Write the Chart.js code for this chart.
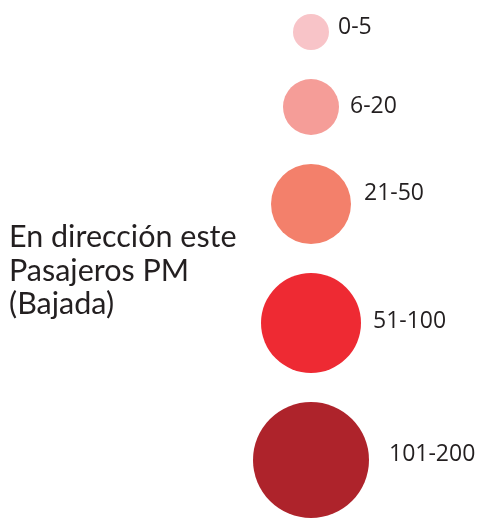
<!DOCTYPE html>
<html>
<head>
<meta charset="utf-8">
<script src="https://cdn.jsdelivr.net/npm/chart.js@4"></script>
<style>
  html, body { margin: 0; padding: 0; background: #ffffff; }
  #wrap { width: 481px; height: 521px; }
</style>
</head>
<body>
<div id="wrap"><canvas id="c" width="481" height="521"></canvas></div>
<script>
// ---- data ----
const categories = ["0-5", "6-20", "21-50", "51-100", "101-200"];
const bubbleRadii = [18, 28, 40, 50, 58];
const colors = ["#f8c4c8", "#f59d98", "#f3806b", "#ee2a33", "#ae232b"];
const titleLines = ["En dirección este", "Pasajeros PM", "(Bajada)"];

// ---- layout derived from sizes (stacked with constant gap) ----
const GAP = 29, TOP = 14, COLUMN_X = 311;
const centers = [];
let cur = TOP;
bubbleRadii.forEach((r, i) => {
  if (i === 0) cur = TOP + r;
  else cur = cur + bubbleRadii[i - 1] + GAP + r;
  centers.push(cur);
});

const points = categories.map((c, i) => ({ x: COLUMN_X, y: centers[i], r: bubbleRadii[i], label: c }));

// label placement style tweaks (relative to each bubble's edge/centre)
const LABEL_DX = [9, 11, 13, 12, 20];
const LABEL_DY = [-5, -1, -11, -2, -6];

const labelPlugin = {
  id: 'labels',
  afterDatasetsDraw(chart) {
    const ctx = chart.ctx;
    const meta = chart.getDatasetMeta(0);
    ctx.save();
    ctx.fillStyle = '#231f20';
    ctx.font = '23px "Open Sans"';
    ctx.textBaseline = 'middle';
    ctx.textAlign = 'left';
    meta.data.forEach((el, i) => {
      const r = bubbleRadii[i];
      ctx.fillText(categories[i], el.x + r + LABEL_DX[i], el.y + LABEL_DY[i]);
    });
    ctx.font = '30.5px Lato';
    ctx.textBaseline = 'alphabetic';
    titleLines.forEach((t, i) => {
      ctx.fillText(t, 9, 247 + i * 33.5);
    });
    ctx.restore();
  }
};

new Chart(document.getElementById('c'), {
  type: 'bubble',
  data: {
    datasets: [{
      data: points,
      backgroundColor: colors,
      borderWidth: 0,
      hoverBorderWidth: 0,
      clip: false
    }]
  },
  options: {
    responsive: false,
    animation: false,
    events: [],
    layout: { padding: 0, autoPadding: false },
    plugins: { legend: { display: false }, tooltip: { enabled: false }, title: { display: false } },
    scales: {
      x: { type: 'linear', min: 0, max: 481, display: false },
      y: { type: 'linear', min: 0, max: 521, reverse: true, display: false }
    }
  },
  plugins: [labelPlugin]
});
</script>
</body>
</html>
